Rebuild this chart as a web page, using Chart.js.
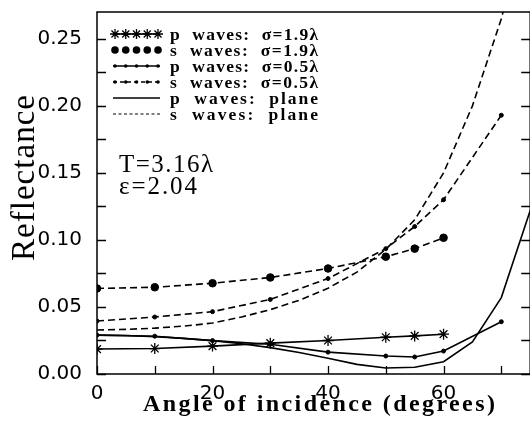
<!DOCTYPE html>
<html>
<head>
<meta charset="utf-8">
<script src="https://cdn.jsdelivr.net/npm/chart.js@4.4.1/dist/chart.umd.min.js"></script>
<style>
  html, body { margin: 0; padding: 0; background: #fff; overflow: hidden; }
  #wrap { position: relative; width: 537px; height: 422px; }
</style>
</head>
<body>
<div id="wrap"><canvas id="c" width="537" height="422"></canvas></div>
<script>
// Angles of incidence (degrees) at which each curve is sampled
const anglesRough19 = [0, 10, 20, 30, 40, 50, 55, 60];
const anglesRough05 = [0, 10, 20, 30, 40, 50, 55, 60, 70];
const anglesPlane   = [0, 5, 10, 15, 20, 25, 30, 35, 40, 45, 50, 55, 60, 65, 70, 75];

// Reflectance values
const pRough19 = [0.0186, 0.0190, 0.0208, 0.0230, 0.0250, 0.0274, 0.0284, 0.0297];
const sRough19 = [0.0638, 0.0647, 0.0677, 0.0720, 0.0787, 0.0875, 0.0935, 0.1016];
const pRough05 = [0.0290, 0.0282, 0.0249, 0.0222, 0.0163, 0.0134, 0.0127, 0.0171, 0.0390];
const sRough05 = [0.0395, 0.0425, 0.0465, 0.0556, 0.0712, 0.0935, 0.1100, 0.1300, 0.1930];
const pPlane   = [0.0290, 0.0287, 0.0279, 0.0266, 0.0249, 0.0226, 0.0197, 0.0160, 0.0118, 0.0072, 0.0045, 0.0050, 0.0092, 0.0240, 0.0570, 0.1220];
const sPlane   = [0.0328, 0.0333, 0.0342, 0.0357, 0.0380, 0.0425, 0.0480, 0.0550, 0.0640, 0.0760, 0.0930, 0.1150, 0.1500, 0.2000, 0.2650, 0.3500];

// Axis ticks
const xTickValues = [0, 20, 40, 60];
const yTickValues = [0, 0.05, 0.10, 0.15, 0.20, 0.25];
const xMinorStep = 10;
const yMinorStep = 0.025;

// Legend and annotation texts
const legendLabels = [
  'p  waves:  \u03C3=1.9\u03BB',
  's  waves:  \u03C3=1.9\u03BB',
  'p  waves:  \u03C3=0.5\u03BB',
  's  waves:  \u03C3=0.5\u03BB',
  'p  waves:  plane',
  's  waves:  plane'
];
const noteLines = ['T=3.16\u03BB', '\u03B5=2.04'];
const xTitle = 'Angle of incidence (degrees)';
const yTitle = 'Reflectance';

const pts = (xs, ys) => xs.map((x, i) => ({ x: x, y: ys[i] }));

const DASH = [7, 4];
const seriesStyles = [
  { pointStyle: 'star',   radius: 5.5, dash: []   },
  { pointStyle: 'circle', radius: 3.8, dash: DASH },
  { pointStyle: 'circle', radius: 2,   dash: []   },
  { pointStyle: 'circle', radius: 2,   dash: DASH },
  { pointStyle: false,    radius: 0,   dash: []   },
  { pointStyle: false,    radius: 0,   dash: DASH }
];

function makeDataset(label, data, st) {
  return {
    label: label,
    data: data,
    borderColor: '#000',
    backgroundColor: '#000',
    borderWidth: 1.6,
    borderDash: st.dash,
    tension: 0,
    pointStyle: st.pointStyle,
    pointRadius: st.radius,
    pointHoverRadius: st.radius,
    pointBorderWidth: st.pointStyle === 'star' ? 1.3 : 1,
    pointBackgroundColor: '#000',
    pointBorderColor: '#000'
  };
}

// Draws text spread to a given width (left edge at x0)
function spreadText(ctx, text, x0, y, width) {
  ctx.letterSpacing = '0px';
  const w = ctx.measureText(text).width;
  const n = Array.from(text).length;
  const sp = n > 1 ? Math.max(-1.5, (width - w) / (n - 1)) : 0;
  ctx.letterSpacing = sp.toFixed(2) + 'px';
  ctx.textAlign = 'left';
  ctx.fillText(text, x0, y);
  ctx.letterSpacing = '0px';
}

const framePlugin = {
  id: 'frame',
  afterDraw(chart) {
    const ctx = chart.ctx;
    const a = chart.chartArea;
    const xs = chart.scales.x, ys = chart.scales.y;
    ctx.save();
    ctx.strokeStyle = '#000';
    ctx.fillStyle = '#000';
    ctx.lineWidth = 1.5;
    ctx.setLineDash([]);
    ctx.strokeRect(a.left, a.top, a.right - a.left, a.bottom - a.top);

    // inward tick marks
    ctx.lineWidth = 1.3;
    ctx.beginPath();
    for (let v = 0; v <= xs.max + 1e-9; v += xMinorStep) {
      const px = Math.round(xs.getPixelForValue(v)) + 0.5;
      ctx.moveTo(px, a.bottom);
      ctx.lineTo(px, a.bottom - 8);
    }
    for (let v = 0; v <= ys.max + 1e-9; v += yMinorStep) {
      const py = Math.round(ys.getPixelForValue(v)) + 0.5;
      ctx.moveTo(a.left, py);
      ctx.lineTo(a.left + 9, py);
      ctx.moveTo(a.right, py);
      ctx.lineTo(a.right - 9, py);
    }
    ctx.stroke();

    // legend
    const rows = [34, 50, 66, 82, 98, 114];
    const sx0 = 113, sx1 = 160;
    ctx.font = 'bold 17.5px "Liberation Serif"';
    ctx.textBaseline = 'middle';
    rows.forEach((ry, i) => {
      const st = seriesStyles[i];
      ctx.lineWidth = i === 5 ? 1 : 1.5;
      ctx.setLineDash(i === 5 ? [3, 2.5] : st.dash.length ? [4, 3] : []);
      if (i !== 1) {
        ctx.beginPath();
        ctx.moveTo(sx0, ry);
        ctx.lineTo(sx1, ry);
        ctx.stroke();
      }
      ctx.setLineDash([]);
      if (st.pointStyle) {
        for (let k = 0; k < 5; k++) {
          const px = sx0 + 2 + k * (sx1 - sx0 - 4) / 4;
          if (st.pointStyle === 'star') {
            const r = 5;
            ctx.lineWidth = 1.3;
            ctx.beginPath();
            for (let j = 0; j < 4; j++) {
              const ang = j * Math.PI / 4;
              ctx.moveTo(px - r * Math.cos(ang), ry - r * Math.sin(ang));
              ctx.lineTo(px + r * Math.cos(ang), ry + r * Math.sin(ang));
            }
            ctx.stroke();
          } else {
            ctx.beginPath();
            ctx.arc(px, ry, i === 1 ? 3.8 : 1.8, 0, Math.PI * 2);
            ctx.fill();
          }
        }
      }
      spreadText(ctx, legendLabels[i], 170, ry + 1, 148);
    });

    // parameters note
    ctx.font = '25px "Liberation Serif"';
    spreadText(ctx, noteLines[0], 119, 165, 94);
    spreadText(ctx, noteLines[1], 119, 187, 78);

    // axis titles
    ctx.font = 'bold 24px "Liberation Serif"';
    spreadText(ctx, xTitle, 143, 405, 352);
    ctx.save();
    ctx.translate(25, 178);
    ctx.rotate(-Math.PI / 2);
    ctx.font = '33px "Liberation Serif"';
    spreadText(ctx, yTitle, -83, 0, 166);
    ctx.restore();

    ctx.restore();
  }
};

new Chart(document.getElementById('c'), {
  type: 'line',
  data: {
    datasets: [
      makeDataset(legendLabels[0], pts(anglesRough19, pRough19), seriesStyles[0]),
      makeDataset(legendLabels[1], pts(anglesRough19, sRough19), seriesStyles[1]),
      makeDataset(legendLabels[2], pts(anglesRough05, pRough05), seriesStyles[2]),
      makeDataset(legendLabels[3], pts(anglesRough05, sRough05), seriesStyles[3]),
      makeDataset(legendLabels[4], pts(anglesPlane, pPlane), seriesStyles[4]),
      makeDataset(legendLabels[5], pts(anglesPlane, sPlane), seriesStyles[5])
    ]
  },
  options: {
    responsive: false,
    animation: false,
    devicePixelRatio: 1,
    layout: { padding: { top: 12, right: 1, left: 0, bottom: 0 } },
    plugins: { legend: { display: false }, tooltip: { enabled: false }, title: { display: false } },
    scales: {
      x: {
        type: 'linear',
        min: 0,
        max: 75,
        afterBuildTicks: s => { s.ticks = xTickValues.map(v => ({ value: v })); },
        afterFit: s => { s.height = 48; s.paddingLeft = 0; s.paddingRight = 0; },
        grid: { display: false },
        border: { display: false },
        ticks: {
          color: '#000',
          padding: 0,
          maxRotation: 0,
          autoSkip: false,
          font: { family: '"DejaVu Sans"', size: 20 },
          callback: v => String(v)
        }
      },
      y: {
        type: 'linear',
        min: 0,
        max: 0.27,
        afterBuildTicks: s => { s.ticks = yTickValues.map(v => ({ value: v })); },
        afterFit: s => { s.width = 97; s.paddingTop = 0; s.paddingBottom = 0; },
        grid: { display: false },
        border: { display: false },
        ticks: {
          color: '#000',
          padding: 7,
          autoSkip: false,
          font: { family: '"DejaVu Sans"', size: 20 },
          callback: v => v.toFixed(2)
        }
      }
    }
  },
  plugins: [framePlugin]
});
</script>
</body>
</html>
